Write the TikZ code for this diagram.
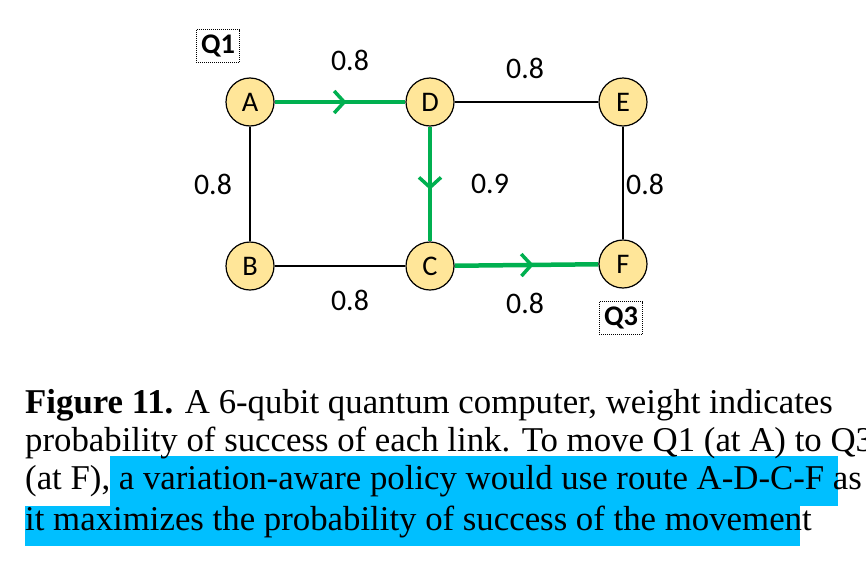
\documentclass[tikz,border=0pt]{standalone}
\usepackage{fontspec}
\setmainfont{Liberation Serif}
\newfontfamily\carlfont{Carlito}
\usetikzlibrary{decorations.markings,arrows.meta,backgrounds}
\definecolor{nodey}{HTML}{FFE699}
\definecolor{grn}{HTML}{00B050}
\definecolor{hl}{HTML}{00BFFF}
\newcommand{\bigtxt}[1]{\scalebox{1.42}{#1}}
\tikzset{
 qb/.style={circle,draw,line width=1.2pt,fill=nodey,minimum size=48pt,inner sep=0pt,font=\carlfont\fontsize{20}{20}\selectfont},
 wt/.style={font=\carlfont\fontsize{21}{21}\selectfont},
 plain/.style={line width=1.3pt},
 route/.style={line width=4.5pt,grn,postaction={decorate},decoration={markings,mark=at position 0.55 with {\arrow[grn,line width=3.5pt]{Straight Barb[length=10pt,width=22pt]}}}},
 qlab/.style={draw,densely dotted,line width=1pt,font=\carlfont\bfseries\fontsize{20}{20}\selectfont,inner sep=5pt},
 captext/.style={anchor=west,inner sep=0pt,font=\fontsize{24.5}{24.5}\selectfont}
}
\begin{document}
\begin{tikzpicture}[x=1pt,y=-1pt]
\useasboundingbox (0,0) rectangle (866,570);
\node[qb] (A) at (250,102) {\bigtxt{A}};
\node[qb] (D) at (430,102) {\bigtxt{D}};
\node[qb] (E) at (623,102) {\bigtxt{E}};
\node[qb] (B) at (250,266) {\bigtxt{B}};
\node[qb] (C) at (430,266) {\bigtxt{C}};
\node[qb] (F) at (623,264) {\bigtxt{F}};
\begin{scope}[on background layer]
\draw[plain] (D) -- (E);
\draw[plain] (A) -- (B);
\draw[plain] (B) -- (C);
\draw[plain] (E) -- (F);
\draw[route] (A) -- (D);
\draw[route] (D) -- (C);
\draw[route] (C) -- (F);
\fill[hl] (110,456) rectangle (838,506);
\fill[hl] (25,506) rectangle (800,546);
\end{scope}
\node[wt] (w1) at (350,60) {\bigtxt{0.8}};
\node[wt] (w2) at (525,68) {\bigtxt{0.8}};
\node[wt] (w3) at (213,184) {\bigtxt{0.8}};
\node[wt] (w4) at (490,184) {\bigtxt{0.9}};
\node[wt] (w5) at (645,184) {\bigtxt{0.8}};
\node[wt] (w6) at (350,300) {\bigtxt{0.8}};
\node[wt] (w7) at (525,303) {\bigtxt{0.8}};
\node[qlab] (q1) at (218,46) {\bigtxt{Q1}};
\node[qlab] (q3) at (621,318) {\bigtxt{Q3}};
\node[captext] (l1) at (25,405) {\bigtxt{\textbf{Figure 11.} A 6-qubit quantum computer, weight indicates}};
\node[captext] (l2) at (25,443) {\bigtxt{probability of success of each link. To move Q1 (at A) to Q3}};
\node[captext] (l3) at (25,481) {\bigtxt{(at F), a variation-aware policy would use route A-D-C-F as}};
\node[captext] (l4) at (25,522) {\bigtxt{it maximizes the probability of success of the movement}};
\end{tikzpicture}
\end{document}
